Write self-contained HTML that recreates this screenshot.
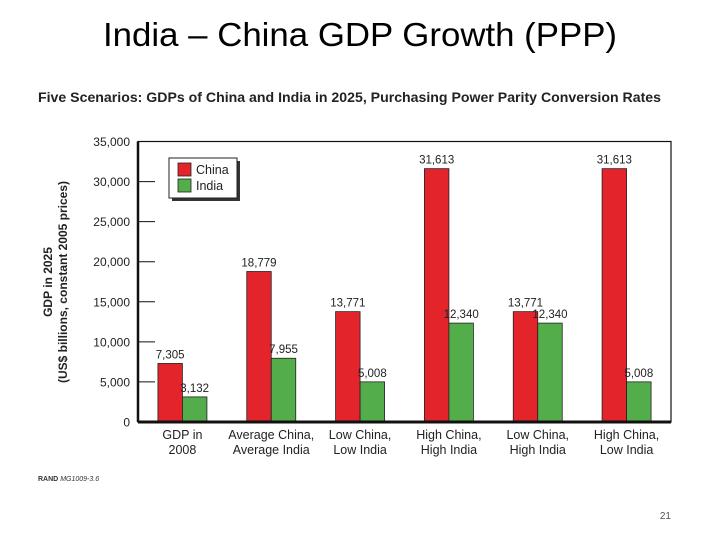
<!DOCTYPE html>
<html><head><meta charset="utf-8"><style>
body{margin:0;background:#fff;width:720px;height:540px;overflow:hidden;font-family:"Liberation Sans",sans-serif}
</style></head><body>
<svg width="720" height="540" font-family="Liberation Sans, sans-serif">
<text x="360" y="46" text-anchor="middle" font-size="33" fill="#000" textLength="514" lengthAdjust="spacingAndGlyphs">India – China GDP Growth (PPP)</text>
<text x="38" y="102" font-size="14" font-weight="bold" fill="#222" textLength="623" lengthAdjust="spacingAndGlyphs">Five Scenarios: GDPs of China and India in 2025, Purchasing Power Parity Conversion Rates</text>
<g transform="translate(52,282) rotate(-90)">
<text x="0" y="0" text-anchor="middle" font-size="12" font-weight="bold" fill="#222">GDP in 2025</text>
<text x="0" y="15" text-anchor="middle" font-size="12" font-weight="bold" fill="#222">(US$ billions, constant 2005 prices)</text>
</g>
<g id="plot"></g>
<text x="38" y="481" font-size="7" fill="#333"><tspan font-weight="bold">RAND</tspan> <tspan font-style="italic">MG1009-3.6</tspan></text>
<text x="671" y="519" text-anchor="end" font-size="10" fill="#555">21</text>
</svg>
<script>
const categories=[["GDP in","2008"],["Average China,","Average India"],["Low China,","Low India"],["High China,","High India"],["Low China,","High India"],["High China,","Low India"]];
const chinaValues=[7305,18779,13771,31613,13771,31613];
const indiaValues=[3132,7955,5008,12340,12340,5008];
const yTicks=[0,5000,10000,15000,20000,25000,30000,35000];
const NS="http://www.w3.org/2000/svg";
const g=document.getElementById('plot');
const L=138,R=671,T=141.5,B=422,YMAX=35000;
const y=v=>B-(v/YMAX)*(B-T);
const band=(R-L)/categories.length;
const cx=i=>L+band*(i+0.5);
const bw=24.5;
function el(t,a){const e=document.createElementNS(NS,t);for(const k in a)e.setAttribute(k,a[k]);g.appendChild(e);return e;}
const fmt=v=>v.toLocaleString('en-US');
let fr=el('rect',{x:L,y:T,width:R-L,height:B-T,fill:'none',stroke:'#111','stroke-width':1.2});


let la=el('line',{x1:L,x2:L,y1:T,y2:B,stroke:'#111','stroke-width':2.5});


yTicks.forEach(v=>{
 if(v>0&&v<YMAX){let t=el('line',{x1:L,x2:L+17,y1:y(v),y2:y(v),stroke:'#111','stroke-width':1});
 
 }
 let tx=el('text',{x:L-8,y:y(v)+4.5,'text-anchor':'end','font-size':12,fill:'#222'});tx.textContent=fmt(v);
 
 
});
categories.forEach((c,i)=>{
 const series=[[chinaValues[i],'#e3242b',-bw,'bar-china'],[indiaValues[i],'#53ad4a',0,'bar-india']];
 series.forEach(([v,col,off,nm])=>{
  let r=el('rect',{x:cx(i)+off,y:y(v),width:bw,height:B-y(v),fill:col,stroke:'#222','stroke-width':0.8});
  
  
  let t=el('text',{x:cx(i)+off+bw/2,y:y(v)-5,'text-anchor':'middle','font-size':11.5,fill:'#222'});t.textContent=fmt(v);
  
  
 });
 c.forEach((s,k)=>{let t=el('text',{x:cx(i),y:439+k*15,'text-anchor':'middle','font-size':12.5,fill:'#222'});t.textContent=s;
  
  });
});
let ax=el('line',{x1:L,x2:R,y1:B,y2:B,stroke:'#111','stroke-width':3});


let sh=el('rect',{x:172,y:161,width:68,height:40,fill:'#333'});


let lb=el('rect',{x:169,y:158,width:68,height:40,fill:'#fff',stroke:'#222','stroke-width':1});


[['China','#e3242b'],['India','#53ad4a']].forEach(([n,c],k)=>{
 let s=el('rect',{x:178,y:163+k*16,width:13,height:13,fill:c,stroke:'#222','stroke-width':0.8});
 
 
 let t=el('text',{x:196,y:174+k*16,'font-size':12.5,fill:'#222'});t.textContent=n;
 
 
});
</script>
</body></html>
